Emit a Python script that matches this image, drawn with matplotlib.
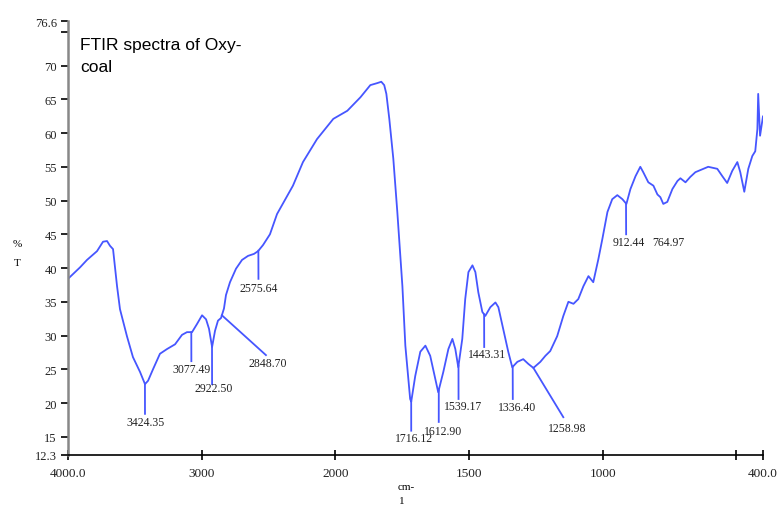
import numpy as np
import matplotlib
matplotlib.use("Agg")
import matplotlib.pyplot as plt
from matplotlib.ticker import FixedLocator, FixedFormatter

# spectrum (wavenumber cm-1, %T)
wavenumber = [
    4000, 3910, 3858, 3783, 3738, 3708, 3686, 3663, 3633, 3611, 3559, 3514,
    3461, 3424, 3401, 3364, 3312, 3259, 3199, 3147, 3110, 3072, 3035, 2997,
    2967, 2945, 2922, 2900, 2878, 2855, 2833, 2818, 2788, 2743, 2698, 2653,
    2608, 2578, 2541, 2489, 2436, 2317, 2242, 2137, 2015, 1955, 1906, 1869,
    1843, 1828, 1817, 1809, 1798, 1783, 1768, 1749, 1738, 1720, 1716, 1701,
    1682, 1663, 1645, 1626, 1615, 1596, 1577, 1562, 1551, 1540, 1525, 1514,
    1502, 1487, 1476, 1465, 1450, 1439, 1420, 1401, 1390, 1372, 1353, 1338,
    1319, 1297, 1278, 1259, 1233, 1214, 1196, 1170, 1147, 1128, 1109, 1091,
    1072, 1053, 1035, 1016, 1001, 982, 964, 945, 926, 911, 896, 877, 859,
    848, 829, 810, 795, 784, 773, 758, 739, 720, 709, 690, 672, 653, 623,
    605, 571, 552, 534, 515, 496, 485, 470, 455, 440, 429, 421, 418, 411, 400,
]
transmittance = [
    38.4, 40.1, 41.2, 42.5, 43.9, 44.0, 43.3, 42.8, 37.3, 33.9, 29.9, 26.8,
    24.6, 22.8, 23.3, 25.0, 27.3, 28.0, 28.7, 30.1, 30.5, 30.5, 31.7, 33.0,
    32.4, 31.0, 28.3, 30.7, 32.2, 32.6, 34.0, 36.0, 37.9, 39.9, 41.2, 41.8,
    42.1, 42.5, 43.4, 45.0, 48.0, 52.2, 55.7, 59.1, 62.1, 63.3, 65.3, 67.1,
    67.4, 67.6, 67.1, 65.8, 62.1, 56.2, 48.3, 37.3, 28.5, 20.6, 20.2, 24.0,
    27.6, 28.5, 27.0, 23.6, 21.6, 24.6, 28.0, 29.5, 28.0, 25.3, 29.5, 35.4,
    39.4, 40.4, 39.4, 36.4, 33.5, 32.9, 34.2, 34.9, 34.2, 31.0, 27.6, 25.3,
    26.1, 26.5, 25.8, 25.2, 26.1, 27.0, 27.7, 29.9, 32.9, 35.0, 34.7, 35.4,
    37.3, 38.8, 37.9, 41.3, 44.3, 48.3, 50.2, 50.8, 50.2, 49.5, 51.7, 53.6,
    55.0, 54.2, 52.7, 52.2, 50.9, 50.5, 49.5, 49.8, 51.7, 52.9, 53.3, 52.7,
    53.5, 54.2, 54.7, 55.0, 54.7, 53.6, 52.6, 54.4, 55.7, 54.2, 51.3, 54.7,
    56.6, 57.3, 60.6, 65.8, 59.6, 62.5,
]

peak_labels = ["3424.35", "3077.49", "2922.50", "2848.70", "2575.64", "1716.12",
               "1612.90", "1539.17", "1443.31", "1336.40", "1258.98", "912.44", "764.97"]
peak_positions = [3424.35, 3077.49, 2922.50, 2848.70, 2575.64, 1716.12,
                  1612.90, 1539.17, 1443.31, 1336.40, 1258.98, 912.44, 764.97]

x_ticks = [4000, 3000, 2000, 1500, 1000, 500, 400]
x_tick_labels = ["4000.0", "3000", "2000", "1500", "1000", "", "400.0"]
y_ticks = [12.3, 15, 20, 25, 30, 35, 40, 45, 50, 55, 60, 65, 70, 75, 76.6]
y_tick_labels = ["12.3", "15", "20", "25", "30", "35", "40", "45", "50",
                 "55", "60", "65", "70", "", "76.6"]

# leader line end and label spot for each peak (layout only)
leader_end = [(3424, 18.4), (3077, 26.2), (2922, 22.8), (2519, 27.1), (2575, 38.4),
              (1716, 15.9), (1613, 17.2), (1539, 20.6), (1443, 28.3), (1336, 20.6),
              (1147, 17.9), (912, 45.0), None]
label_spot = [(3416, 17.2), (3072, 25.0), (2908, 22.2), (2504, 25.9), (2575, 37.0),
              (1704, 14.8), (1596, 15.9), (1521, 19.6), (1431, 27.3), (1319, 19.4),
              (1132, 16.3), (904, 43.9), (754, 43.9)]

BLUE = "#4656ff"
SERIF = "Liberation Serif"


def fwd(x):
    x = np.asarray(x, dtype=float)
    return np.where(x > 2000, 2000 + (x - 2000) / 2, x)


def inv(u):
    u = np.asarray(u, dtype=float)
    return np.where(u > 2000, 2000 + 2 * (u - 2000), u)


fig = plt.figure(figsize=(7.78, 5.06), dpi=100)
ax = fig.add_axes([68 / 778, 50 / 506, 695 / 778, 434 / 506])
ax.set_xscale("function", functions=(fwd, inv))

ax.plot(wavenumber, transmittance, color=BLUE, lw=1.3,
        solid_joinstyle="round", solid_capstyle="round")

wn_inc = np.array(wavenumber[::-1], dtype=float)
tr_inc = np.array(transmittance[::-1], dtype=float)
for lab, pos, end, spot in zip(peak_labels, peak_positions, leader_end, label_spot):
    if end is not None:
        y0 = np.interp(pos, wn_inc, tr_inc)
        ax.plot([pos, end[0]], [y0, end[1]], color=BLUE, lw=1.3)
    ax.text(spot[0], spot[1], lab, ha="center", va="center",
            fontsize=8.5, family=SERIF, color="#222222")

ax.set_xlim(4000, 400)
ax.set_ylim(12.3, 76.6)
ax.xaxis.set_major_locator(FixedLocator(x_ticks))
ax.xaxis.set_major_formatter(FixedFormatter(x_tick_labels))
ax.xaxis.set_minor_locator(FixedLocator([]))
ax.yaxis.set_major_locator(FixedLocator(y_ticks))
ax.yaxis.set_major_formatter(FixedFormatter(y_tick_labels))

for side in ["top", "right"]:
    ax.spines[side].set_visible(False)
ax.spines["left"].set_color("#888888")
ax.spines["left"].set_linewidth(1.8)
ax.spines["bottom"].set_linewidth(1.2)
ax.tick_params(axis="y", direction="out", length=5, width=1.2, labelsize=9, pad=3)
ax.tick_params(axis="x", direction="inout", length=7, width=1.2, labelsize=9.5, pad=5)
for t in ax.get_xticklabels() + ax.get_yticklabels():
    t.set_family(SERIF)
    t.set_color("#222222")

ax.text(0.017, 0.962, "FTIR spectra of Oxy-\ncoal", transform=ax.transAxes,
        ha="left", va="top", fontsize=12.5, family="Liberation Sans",
        linespacing=1.55)

fig.text(17 / 778, 1 - 245 / 506, "%", ha="center", va="center", fontsize=8, family=SERIF)
fig.text(17 / 778, 1 - 263 / 506, "T", ha="center", va="center", fontsize=8, family=SERIF)
fig.text(398 / 778, 1 - 488 / 506, "cm-", ha="left", va="center", fontsize=8, family=SERIF)
fig.text(399 / 778, 1 - 502 / 506, "1", ha="left", va="center", fontsize=8, family=SERIF)

fig.savefig("out.png", dpi=100, facecolor="white")
